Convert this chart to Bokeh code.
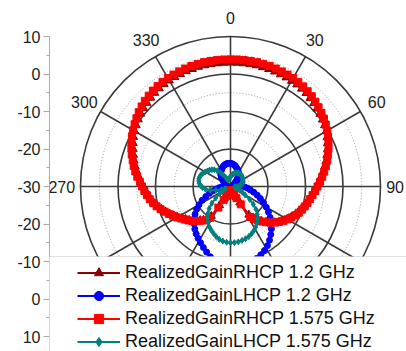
import numpy as np
from bokeh.plotting import figure
from bokeh.models import (Range1d, LinearAxis, FixedTicker, Legend, LegendItem,
                          BoxAnnotation, ColumnDataSource, LabelSet)
from bokeh.core.properties import value
from bokeh.embed import file_html
from bokeh.resources import INLINE

# ---------------- data (dB vs angle in degrees) ----------------
ANG_3 = list(range(0, 360, 3))
ANG_4 = list(range(0, 360, 4))

RHCP_12 = [3.0, 3.0, 3.0, 3.0, 3.0, 2.9, 2.9, 2.8, 2.7, 2.6, 2.5, 2.4, 2.2, 2.0, 1.7, 1.4, 1.0, 0.7, 0.3, -0.1,
           -0.5, -1.1, -1.7, -2.3, -3.0, -3.6, -4.3, -5.0, -5.7, -6.4, -7.0, -7.6, -8.2, -8.7, -9.2, -9.7, -10.2, -10.7, -11.2, -11.9,
           -12.6, -13.3, -14.0, -14.8, -15.7, -16.6, -17.6, -18.6, -19.6, -21.0, -25.0, -26.8, -27.7, -28.2, -28.5, -28.8, -29.0, -29.1, -29.1, -29.1,
           -29.1, -29.1, -29.1, -29.0, -28.9, -28.7, -28.4, -28.0, -27.4, -26.4, -24.2, -20.6, -19.3, -18.5, -17.9, -17.2, -16.5, -15.8, -15.2, -14.5,
           -13.7, -13.0, -12.2, -11.4, -10.6, -9.8, -9.1, -8.5, -7.9, -7.3, -6.7, -6.1, -5.4, -4.7, -4.0, -3.4, -2.8, -2.2, -1.6, -1.0,
           -0.5, 0.0, 0.4, 0.8, 1.2, 1.5, 1.8, 2.1, 2.3, 2.5, 2.6, 2.7, 2.8, 2.9, 2.9, 3.0, 3.0, 3.0, 3.0, 3.0]

RHCP_1575 = [3.9, 3.9, 3.9, 3.9, 3.9, 3.8, 3.8, 3.7, 3.6, 3.5, 3.4, 3.2, 3.0, 2.7, 2.4, 2.0, 1.6, 1.2, 0.8, 0.3,
             -0.2, -0.8, -1.4, -2.0, -2.7, -3.3, -4.0, -4.7, -5.4, -6.1, -6.8, -7.4, -8.0, -8.5, -9.0, -9.5, -10.0, -10.5, -11.1, -11.8,
             -12.5, -13.2, -13.9, -14.7, -15.6, -16.5, -17.4, -18.4, -19.3, -20.3, -24.5, -26.5, -27.5, -28.0, -28.4, -28.7, -28.9, -29.0, -29.0, -29.0,
             -29.0, -29.0, -29.0, -28.9, -28.8, -28.6, -28.3, -27.9, -27.2, -26.0, -23.5, -20.0, -19.0, -18.3, -17.7, -17.0, -16.3, -15.6, -15.0, -14.3,
             -13.5, -12.8, -12.0, -11.2, -10.4, -9.6, -8.9, -8.2, -7.6, -7.0, -6.4, -5.8, -5.0, -4.3, -3.6, -3.0, -2.3, -1.7, -1.1, -0.5,
             0.0, 0.5, 1.0, 1.5, 1.9, 2.3, 2.6, 2.9, 3.1, 3.3, 3.4, 3.5, 3.6, 3.7, 3.8, 3.8, 3.9, 3.9, 3.9, 3.9]

LHCP_12 = [-23.8, -23.9, -24.1, -24.3, -24.6, -24.9, -25.2, -25.6, -26.0, -26.5, -27.0, -27.5, -28.0, -28.4, -28.7,
           -28.9, -29.0, -29.0, -28.9, -28.7, -28.3, -27.7, -27.0, -26.2, -25.4, -24.6, -23.6, -22.5, -21.4, -20.2,
           -19.0, -17.8, -16.6, -15.4, -14.3, -13.3, -12.3, -11.4, -10.7, -10.1, -9.6, -9.1, -8.8, -8.6, -8.5,
           -8.5, -8.7, -9.1, -9.7, -10.5, -11.4, -12.2, -13.0, -13.7, -14.4, -15.2, -16.1, -17.0, -18.0, -19.1,
           -20.3, -21.6, -22.9, -24.1, -25.2, -26.2, -27.0, -27.7, -28.2, -28.6, -28.8, -28.9, -28.9, -28.8, -28.6,
           -28.3, -27.9, -27.5, -27.0, -26.5, -26.0, -25.6, -25.2, -24.9, -24.6, -24.3, -24.1, -23.9, -23.8, -23.8]

LHCP_1575 = [-27.5, -27.2, -26.9, -26.6, -26.3, -26.1, -26.0, -25.9, -25.8, -25.8, -25.8, -25.8, -25.9, -26.0, -26.1,
             -26.2, -26.3, -26.4, -26.5, -26.7, -27.0, -27.4, -27.9, -28.4, -28.8, -28.9, -28.6, -28.0, -27.3, -26.5,
             -25.5, -23.8, -22.3, -20.8, -19.7, -18.8, -18.0, -17.3, -16.7, -16.2, -15.8, -15.5, -15.3, -15.1, -15.0,
             -15.0, -15.1, -15.3, -15.6, -16.1, -16.7, -17.3, -17.9, -18.7, -19.6, -20.6, -21.8, -23.3, -25.0, -26.5,
             -27.5, -28.3, -28.5, -27.5, -26.0, -24.5, -23.3, -22.5, -22.0, -21.6, -21.4, -21.3, -21.4, -21.6, -21.9,
             -22.2, -22.6, -22.9, -23.3, -23.8, -24.5, -25.4, -26.4, -27.3, -27.9, -28.2, -28.0, -27.9, -27.8, -27.6]

SERIES_LABELS = ["RealizedGainRHCP 1.2 GHz", "RealizedGainLHCP 1.2 GHz",
                 "RealizedGainRHCP 1.575 GHz", "RealizedGainLHCP 1.575 GHz"]

R_MIN, R_MAX = -30, 10
R_GRID = [-25, -20, -15, -10, -5, 0, 5, 10]
SPOKE_ANGLES = list(range(0, 360, 30))
ANGLE_LABEL_VALUES = [0, 30, 60, 270, 300, 330]
AXIS_TICKS = list(range(-40, 41, 10))

# ---------------- geometry ----------------
W, H = 406, 351
LEFT = 49
CX, CY = 230.0, 186.0
PX = 3.75  # pixels per dB

p = figure(width=W, height=H, output_backend="svg", toolbar_location=None,
           x_range=Range1d((LEFT - CX) / PX, (W - CX) / PX),
           y_range=Range1d(-(H - CY) / PX, CY / PX),
           x_axis_location=None, y_axis_location=None,
           min_border_left=LEFT, min_border_right=0, min_border_top=0, min_border_bottom=0,
           outline_line_color=None, background_fill_color="white")
p.grid.visible = False


def to_xy(ang, db):
    r = np.asarray(db, dtype=float) - R_MIN
    t = np.radians(np.asarray(ang, dtype=float))
    return r * np.sin(t), r * np.cos(t)


# polar grid
for v in R_GRID:
    rr = v - R_MIN
    if v % 10 == 0:
        p.circle(x=0, y=0, radius=rr, fill_color=None, line_color="#3a3a3a", line_width=1.6)
    else:
        p.circle(x=0, y=0, radius=rr, fill_color=None, line_color="#9a9a9a", line_width=1,
                 line_dash="1 2")
sp = np.radians(SPOKE_ANGLES)
p.segment(x0=np.zeros(len(sp)), y0=np.zeros(len(sp)),
          x1=(R_MAX - R_MIN) * np.sin(sp), y1=(R_MAX - R_MIN) * np.cos(sp),
          line_color="#3a3a3a", line_width=1.6)

# series
styles = [
    (ANG_3, RHCP_12, "#8B0000", "triangle", 8),
    (ANG_4, LHCP_12, "#0000FF", "circle", 6),
    (ANG_3, RHCP_1575, "#FF0000", "square", 7),
    (ANG_4, LHCP_1575, "#008080", "diamond", 6),
]
items = []
for (ang, vals, col, mk, sz), lab in zip(styles, SERIES_LABELS):
    x, y = to_xy(ang, vals)
    lsrc = ColumnDataSource(dict(x=np.append(x, x[0]), y=np.append(y, y[0])))
    ssrc = ColumnDataSource(dict(x=x, y=y))
    lr = p.line("x", "y", source=lsrc, line_color=col, line_width=2)
    sr = p.scatter("x", "y", source=ssrc, marker=mk, size=sz, fill_color=col, line_color=col)
    items.append(LegendItem(label=lab, renderers=[lr, sr]))

# angle labels
R_LAB = 45.0
ta = np.radians(ANGLE_LABEL_VALUES)
lab_src = ColumnDataSource(dict(x=R_LAB * np.sin(ta), y=R_LAB * np.cos(ta),
                                text=[str(a) for a in ANGLE_LABEL_VALUES]))
p.add_layout(LabelSet(x="x", y="y", text="text", source=lab_src, text_align="center",
                      text_baseline="middle", text_font=value("Liberation Sans"),
                      text_font_size="16px", text_color="#222222"))
lab90 = ColumnDataSource(dict(x=[43.9], y=[0.0], text=["90"]))
p.add_layout(LabelSet(x="x", y="y", text="text", source=lab90, text_align="center",
                      text_baseline="middle", text_font=value("Liberation Sans"),
                      text_font_size="16px", text_color="#222222"))

# left radial axis (mirrored)
yaxis = LinearAxis(ticker=FixedTicker(ticks=AXIS_TICKS, minor_ticks=list(range(-35, 36, 10))),
                   major_label_overrides={t: str(R_MIN + abs(t)) for t in AXIS_TICKS},
                   bounds=(-50, 40))
yaxis.axis_line_color = "#aaaaaa"
yaxis.major_tick_line_color = "#aaaaaa"
yaxis.minor_tick_line_color = "#aaaaaa"
yaxis.major_tick_out = 6
yaxis.major_tick_in = 0
yaxis.minor_tick_out = 3
yaxis.minor_tick_in = 0
yaxis.major_label_standoff = 3
yaxis.major_label_text_font = "Liberation Sans"
yaxis.major_label_text_font_size = "16px"
yaxis.major_label_text_color = "#222222"
p.add_layout(yaxis, "left")

# legend box + legend
box = BoxAnnotation(left=(45 - CX) / PX, right=60, top=(CY - 256) / PX, bottom=-60,
                    fill_color="white", fill_alpha=1.0, line_color="#a0a0a0", line_width=1)
p.add_layout(box)
legend = Legend(items=items, location=(23, -7), padding=5, spacing=0,
                glyph_width=43, glyph_height=23, label_height=23, label_standoff=5,
                label_text_font="Liberation Sans", label_text_font_size="18px",
                label_text_color="#111111",
                background_fill_alpha=0, border_line_alpha=0)
p.add_layout(legend, "center")

open("out.html", "w").write(file_html(p, INLINE))
